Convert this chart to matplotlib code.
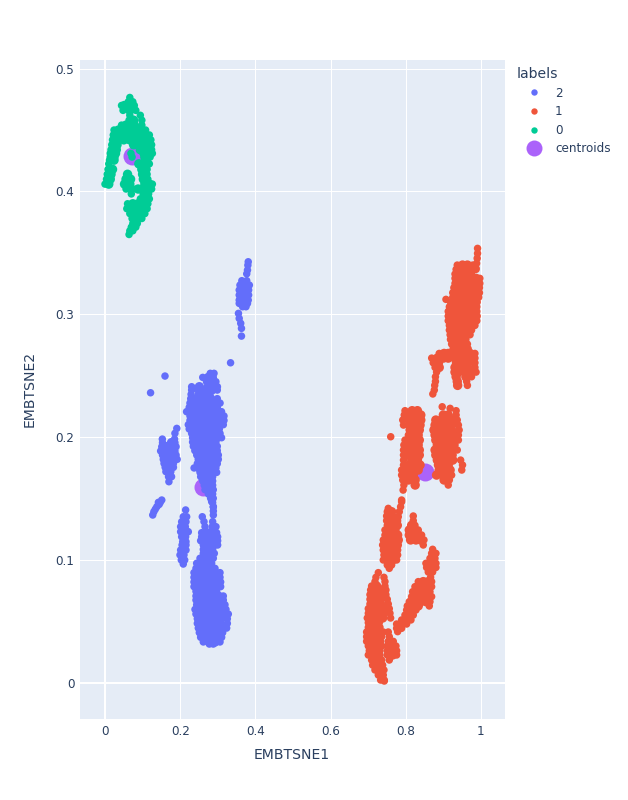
import matplotlib
matplotlib.use('Agg')
import matplotlib.pyplot as plt
from matplotlib.lines import Line2D

green_y = [.4765, .473, .470, .466, .462, .458, .454, .450, .446, .442, .438, .434, .431, .428, .4255, .4225,
           .418, .414, .410, .406, .402, .398, .394, .390, .386, .382, .378, .374, .371, .368, .365]
green_x = [[.066], [.062, .074], [.044, .052, .064, .078], [.048, .066, .082], [.066, .094],
           [.064, .076, .098], [.044, .056, .068, .078, .098], [.024, .036, .048, .06, .072, .084, .096, .108],
           [.022, .034, .048, .062, .076, .09, .104, .118], [.02, .034, .05, .066, .08, .094, .108, .122],
           [.018, .032, .076, .09, .11, .124], [.016, .03, .094, .108, .124],
           [.014, .028, .104, .118, .126], [.014, .024, .106, .12], [.012, .024, .112],
           [.01, .09, .1, .112, .118], [.008, .02, .098, .112], [.006, .016, .06, .1, .112],
           [.004, .014, .056, .068, .102, .114], [.0, .01, .052, .066, .106, .118, .126],
           [.056, .07, .088, .102, .116, .124], [.07, .104, .116], [.094, .108, .118],
           [.06, .074, .088, .102, .114], [.058, .072, .086, .1, .112], [.066, .08, .094, .106],
           [.072, .086, .098], [.074, .086], [.07, .082], [.066, .074], [.064]]
green_patch_y = [.431, .428]
green_patch_x = [[.069], [.072]]

blue_top_y = [.3428, .340, .336, .333, .3274, .3238, .3198, .3157, .3116, .3089, .3062, .3008, .2967, .2927, .2886, .2823, .2606]
blue_top_x = [[.381], [.380], [.379], [.377], [.364, .377], [.359, .372, .384], [.357, .370, .382], [.357, .370, .382],
              [.357, .370, .381], [.357, .368, .379], [.366, .375], [.355], [.357], [.361], [.363], [.363], [.334]]

blue_main_y = [.252, .2487, .2452, .2411, .2384, .2349, .2314, .2278, .2243, .2208, .2173, .2137, .2102, .2067, .2031,
               .1996, .1961, .1926, .1891, .1855, .182, .1785, .175, .1714, .1679, .1644, .1609, .1573, .1538, .1503,
               .1468, .1432]
blue_main_x = [[.280, .290], [.260, .275, .288], [.270, .284, .295], [.2305, .251, .275, .289, .299],
               [.2305, .251, .2686, .284, .2987], [.229, .251, .264, .279], [.228, .244, .26, .281, .2987],
               [.226, .242, .257, .275, .29, .306], [.224, .239, .2545, .2686, .284, .2987],
               [.217, .231, .2455, .2615, .2757, .2917, .31], [.226, .24, .256, .27, .2863, .302, .3165],
               [.226, .242, .258, .274, .288, .304, .3165], [.2216, .235, .251, .267, .283, .2987, .3147],
               [.224, .242, .258, .274, .29, .304], [.2305, .2455, .2615, .2775, .2935, .306],
               [.233, .249, .265, .281, .297, .31], [.233, .248, .263, .279, .295], [.235, .251, .267, .283, .2987],
               [.239, .2545, .27, .2863, .2987], [.244, .26, .2757, .29, .3014], [.248, .263, .279, .2926, .3014],
               [.2455, .2615, .2775, .2926, .2987], [.237, .251, .267, .281, .295], [.2527, .2686, .2846, .297],
               [.2545, .27, .2863], [.26, .274, .2863], [.264, .2757, .2863], [.266, .2775, .288], [.275, .2863],
               [.281, .288], [.2863], [.288]]

blue_left_y = [.2498, .2362, .2072, .2032, .1985, .1956, .1923, .1888, .1855, .182, .1787, .1755, .172, .1679, .1638,
               .1489, .147, .1453, .1435, .1415, .1394, .1367]
blue_left_x = [[.1596], [.1212], [.191], [.186], [.1525, .185], [.153, .177, .186], [.151, .164, .177, .189],
               [.148, .16, .173, .186], [.153, .164, .177, .189], [.155, .166, .179, .192], [.157, .168, .182],
               [.16, .173, .182], [.162, .175], [.169, .177], [.17], [.151], [.142, .147], [.144], [.138], [.134],
               [.130], [.127]]

blue_strip_y = [.1408, .1353, .1312, .1272, .1231, .119, .115, .1123, .1082, .1042, .1001, .0968]
blue_strip_x = [[.2145], [.2082, .2172], [.2039, .2154], [.2012, .2137], [.2012, .2154, .2216], [.2039, .2145],
                [.2066, .2154], [.205, .2154], [.2012, .2154], [.1995, .2101], [.203, .212], [.2082]]

blue_low_y = [.1476, .1435, .14, .1367, .1353, .1313, .1272, .1223, .119, .1158, .1123, .1087, .1055, .1015, .0974,
              .0933, .0898, .086, .0822, .0784, .0746, .0708, .0675, .0637, .0599, .0561, .0523, .0485, .0447, .041,
              .0372, .0334, .0317]
blue_low_x = [[.2837], [.2882], [.2882], [.2882], [.2588], [.2633, .2864], [.266, .2882, .2952],
              [.2571, .2704, .2837, .2969], [.2571, .2704, .2837, .2996], [.2544, .2686, .2837, .2996],
              [.2615, .2748, .2881, .2996], [.2615, .2748, .2863], [.2615, .2748, .2908], [.2527, .266, .2793, .2881],
              [.2438, .2571, .2704, .2837], [.242, .2544, .2686, .281, .2926], [.2367, .2509, .266, .2793, .2926, .3059],
              [.2367, .2482, .2615, .2748, .2881, .3059], [.2367, .2509, .266, .2775, .2926, .3076],
              [.2367, .2509, .266, .281, .2952, .3076], [.242, .2544, .2686, .2837, .2969],
              [.242, .2571, .2704, .2863, .3014, .3147], [.242, .2571, .2722, .2863, .3014, .3147],
              [.2438, .2598, .2748, .2899, .3059, .3191], [.2394, .2544, .2704, .2837, .2969, .313, .3218],
              [.242, .2571, .2722, .2881, .3041, .3191, .328], [.2456, .2615, .2775, .2926, .3076, .3254],
              [.2456, .2598, .2748, .2899, .3059, .3254], [.2482, .2633, .2793, .2952, .3103, .3236],
              [.2509, .266, .281, .2969, .313], [.2544, .2686, .2837, .2987, .3103], [.2615, .2775, .2926, .3059],
              [.2775, .2881]]

red_top_y = [.3537, .3496, .3456, .3415, .3375, .3401, .3366, .3328, .3293, .3252, .3217, .3176, .3139, .3122, .31,
             .3062, .3024, .2986, .2948, .291, .2872, .2834, .2796, .2758, .272, .2682, .2644, .2606, .2568, .2530,
             .2492, .2454, .2422, .2384, .2352]
red_top_x = [[.991], [.991], [.990], [.9885], [.987], [.937, .951, .964, .978], [.934, .949, .962, .975, .987],
             [.931, .944, .960, .975], [.931, .944, .957, .973, .987, .997], [.931, .944, .958, .975, .989, .997],
             [.928, .942, .955, .969, .984, .996], [.925, .940, .953, .969, .984, .996],
             [.925, .937, .951, .966, .980, .994], [.907], [.919, .934, .949, .964, .978, .990],
             [.916, .931, .946, .960, .975, .989], [.913, .928, .944, .960, .975, .989],
             [.913, .928, .944, .960, .975, .990], [.913, .928, .944, .960, .975, .989],
             [.916, .931, .946, .960, .973, .984], [.916, .931, .946, .960, .975], [.918, .931, .946, .960, .971],
             [.919, .934, .946, .960], [.922, .935, .951, .964], [.926, .940, .953, .966],
             [.889, .902, .913, .928, .942, .957, .971, .984], [.869, .884, .900, .913, .931, .944, .957, .973, .984],
             [.873, .887, .935, .951, .966, .984], [.878, .889, .931, .944, .964, .984],
             [.882, .931, .940, .960, .975, .987], [.879, .934, .960, .975], [.879, .937, .962], [.877, .938, .964],
             [.876], [.872]]

red_mid_y = [.2248, .2235, .2216, .2181, .214, .2099, .2059, .2018, .2004, .1977, .1937, .1896, .1855, .1814, .1774,
             .1733, .1692, .1652, .1611, .157, .1489]
red_mid_x = [[.897], [.918], [.798, .817, .831, .934], [.796, .813, .827, .840, .900, .913, .934],
             [.792, .811, .825, .840, .880, .895, .913, .928, .937], [.794, .811, .825, .838, .878, .891, .907, .922, .940],
             [.809, .825, .836, .875, .891, .907, .922, .942], [.807, .822, .833, .878, .893, .909, .925, .940], [.760],
             [.798, .811, .825, .836, .880, .895, .911, .926, .940], [.795, .809, .825, .833, .884, .900, .916, .931],
             [.794, .807, .822, .836, .878, .891, .907, .922, .937], [.794, .807, .820, .836, .880, .895, .911, .926],
             [.794, .816, .831, .884, .898, .913, .925, .946], [.794, .809, .825, .838, .887, .900, .913, .951],
             [.789, .804, .820, .833, .889, .904, .918, .949], [.789, .804, .820, .882, .900, .913, .922],
             [.792, .807, .825, .902, .916], [.795, .825, .913], [.793], [.789]]

red_low_y = [.1475, .1434, .1421, .1394, .1359, .1353, .1321, .1283, .1245, .1204, .1164, .1123, .1082, .1042, .1001,
             .096, .0933]
red_low_x = [[.789], [.7863], [.7535], [.7509, .7624, .7828], [.7491, .7624, .82], [.7801],
             [.7491, .7624, .7757, .82], [.7509, .7651, .7775, .8156, .8245], [.7447, .758, .7713, .8094, .8245, .8333],
             [.7447, .758, .7713, .7784, .8094, .82, .8333, .8422], [.7402, .7535, .7668, .7801, .8129, .8271, .8395, .8484],
             [.7385, .7509, .7651, .7775, .8466], [.7402, .7535, .7668, .7784], [.742, .7562, .7686, .7784],
             [.7402, .7509, .7651, .7757], [.7509, .7624], [.7562]]

red_arc_y = [.1088, .1055, .1014, .0974, .094, .0903, .086, .0825, .0784, .0743, .0703, .0662, .0627, .0594, .0553,
             .0513, .048, .0445, .0418]
red_arc_x = [[.8715], [.8688, .8803], [.8644, .8777], [.8537, .8661, .8803], [.8555, .8688, .8803], [.8599, .8715],
             [.8661], [.8333, .8466, .8599, .8688], [.8245, .8378, .8511, .8688], [.8183, .8333, .8484, .8644],
             [.8156, .8289, .8449, .8599, .8688], [.8094, .8218, .8395, .8537, .8644], [.8041, .8183, .8333, .8626],
             [.8023, .8156, .8271], [.7979, .8112, .82], [.789, .8023, .8138], [.7757, .789, .8023], [.7757, .789], [.7784]]

red_left_y = [.0898, .086, .0825, .0789, .0757, .0719, .0681, .0643, .0605, .0567, .0529, .0491, .0453, .0415, .0377,
              .0339, .0301, .0263, .0228, .0187, .0146, .0106, .0065, .0024, .0016]
red_left_x = [[.727], [.7207, .742], [.7181, .7447], [.7092, .7225, .7447], [.7066, .7207, .7332, .7473],
              [.7048, .7181, .7296, .7473], [.7048, .7181, .7314, .7509], [.7048, .7181, .7332, .7535],
              [.7004, .7137, .727, .7402, .7562], [.7004, .7137, .727, .7402, .758], [.6977, .7119, .727, .7385, .7597],
              [.7004, .7154, .7296], [.7004, .7154, .7314], [.6959, .7101, .7243, .7402],
              [.6959, .7101, .7243, .7358], [.6959, .7092, .7225, .7332],
              [.7004, .7137, .727, .7358], [.703, .7181, .7314],
              [.7004, .7154, .7314], [.7092, .7225, .7358], [.7119, .7243, .7385],
              [.7181, .7314, .742], [.727, .7402], [.7332, .7429], [.7429]]

red_lobe_y = [.0415, .0377, .0339, .0301, .0263, .0228, .0187]
red_lobe_x = [[.7535], [.7562], [.7535, .7668], [.7509, .7651, .7739], [.7509, .7651, .7757], [.7509, .7651, .7757], [.7562]]

centroid_x = [0.26, 0.851, 0.071]
centroid_y = [0.1594, 0.1719, 0.4288]

x_ticks = [0, 0.2, 0.4, 0.6, 0.8, 1]
y_ticks = [0, 0.1, 0.2, 0.3, 0.4, 0.5]
legend_labels = ['2', '1', '0', 'centroids']

EDGE_SIZE = 29
INNER_SIZE = 46


def expand(rows_x, rows_y):
    """Flatten level rows into x, y and sizes; inner points are drawn bigger so the clusters close up."""
    xs, ys, sizes = [], [], []
    for row, level in zip(rows_x, rows_y):
        for i, value in enumerate(row):
            xs.append(value)
            ys.append(level)
            sizes.append(EDGE_SIZE if i == 0 or i == len(row) - 1 else INNER_SIZE)
    return xs, ys, sizes


plt.rcParams['font.family'] = ['DejaVu Sans']
TEXT = '#2a3f5f'
BLUE, RED, GREEN, PURPLE = '#636efa', '#EF553B', '#00cc96', '#ab63fa'

fig = plt.figure(figsize=(6.28, 8), dpi=100)
ax = fig.add_axes([80 / 628, 1 - 719 / 800, 425 / 628, 659 / 800], facecolor='#E5ECF6')

ax.scatter(centroid_x, centroid_y, s=168, color=PURPLE, linewidths=0, zorder=2)

blue_parts = [(blue_top_x, blue_top_y), (blue_main_x, blue_main_y), (blue_left_x, blue_left_y),
              (blue_strip_x, blue_strip_y), (blue_low_x, blue_low_y)]
red_parts = [(red_top_x, red_top_y), (red_mid_x, red_mid_y), (red_low_x, red_low_y),
             (red_arc_x, red_arc_y), (red_left_x, red_left_y), (red_lobe_x, red_lobe_y)]
green_parts = [(green_x, green_y), (green_patch_x, green_patch_y)]
for parts, color in [(blue_parts, BLUE), (red_parts, RED), (green_parts, GREEN)]:
    for rows_x, rows_y in parts:
        xs, ys, sizes = expand(rows_x, rows_y)
        ax.scatter(xs, ys, s=sizes, color=color, linewidths=0, zorder=3)

ax.set_xlim(-0.0665, 1.064)
ax.set_ylim(-0.0293, 0.507)
ax.set_xticks(x_ticks)
ax.set_xticklabels(['0', '0.2', '0.4', '0.6', '0.8', '1'])
ax.set_yticks(y_ticks)
ax.set_yticklabels(['0', '0.1', '0.2', '0.3', '0.4', '0.5'])
ax.tick_params(length=0, labelsize=8.64, labelcolor=TEXT, pad=4)
ax.grid(True, color='white', linewidth=0.72, zorder=1)
ax.set_axisbelow(True)
ax.axvline(0, color='white', linewidth=1.44, zorder=1)
ax.axhline(0, color='white', linewidth=1.44, zorder=1)
for spine in ax.spines.values():
    spine.set_visible(False)

fig.text(292 / 628, 1 - 755 / 800, 'EMBTSNE1', fontsize=10.08, color=TEXT, ha='center', va='center')
fig.text(30 / 628, 1 - 389 / 800, 'EMBTSNE2', fontsize=10.08, color=TEXT, ha='center', va='center', rotation=90)

handles = [Line2D([], [], linestyle='', marker='o', markersize=4.6, markeredgewidth=0, color=BLUE),
           Line2D([], [], linestyle='', marker='o', markersize=4.6, markeredgewidth=0, color=RED),
           Line2D([], [], linestyle='', marker='o', markersize=4.6, markeredgewidth=0, color=GREEN),
           Line2D([], [], linestyle='', marker='o', markersize=11.5, markeredgewidth=0, color=PURPLE)]
leg = fig.legend(handles, legend_labels, title='labels', loc='upper left', bbox_to_anchor=(514.6 / 628, 1 - 64.5 / 800),
                 frameon=False, fontsize=8.64, title_fontsize=10.08, labelcolor=TEXT, labelspacing=0.47,
                 handlelength=2.83, handletextpad=0.33, borderpad=0.2, borderaxespad=0, alignment='left')
leg.get_title().set_color(TEXT)

fig.savefig('out.png', dpi=100)
